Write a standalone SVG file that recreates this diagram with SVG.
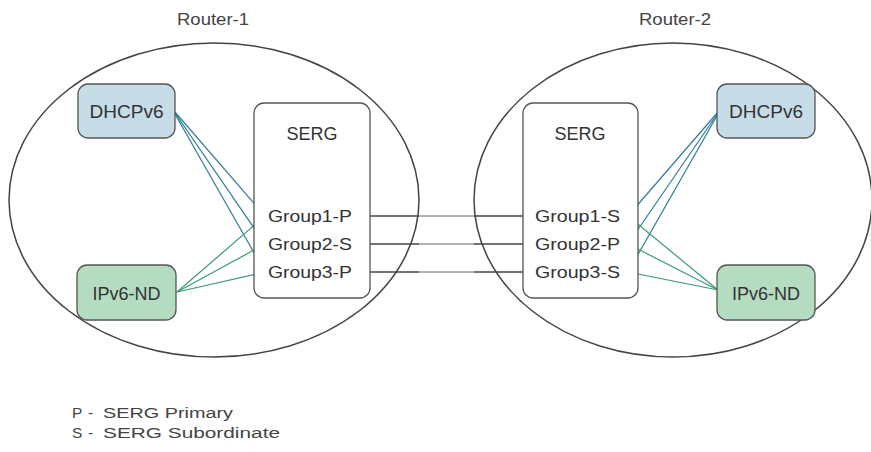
<svg xmlns="http://www.w3.org/2000/svg" width="871" height="452" viewBox="0 0 871 452">
<defs>
<style>
text{font-family:"Liberation Sans",Arial,sans-serif;fill:#333}
.router{fill:none;stroke:#444;stroke-width:1.5}
.title{font-size:17px;fill:#444;text-anchor:middle}
.box{stroke:#555;stroke-width:1.3}
.dh{fill:#c6dde8}
.nd{fill:#b4dcc0}
.serg{fill:#fff}
.lbl{font-size:18px;text-anchor:middle}
.grp{font-size:17px}
.blue{stroke:#2f7b98;stroke-width:1.2;fill:none}
.green{stroke:#3a9a78;stroke-width:1.2;fill:none}
.link{stroke:url(#lg);stroke-width:1.3}
.leg{font-size:15.5px;fill:#444}
</style>
<linearGradient id="lg" gradientUnits="userSpaceOnUse" x1="359" y1="0" x2="532" y2="0">
<stop offset="0" stop-color="#444"/>
<stop offset="0.347" stop-color="#444"/>
<stop offset="0.347" stop-color="#999"/>
<stop offset="0.665" stop-color="#999"/>
<stop offset="0.665" stop-color="#444"/>
<stop offset="1" stop-color="#444"/>
</linearGradient>
</defs>

<g id="router-1">
<ellipse class="router" cx="214" cy="200" rx="205" ry="157"/>
<text class="title" x="213" y="25" textLength="72" lengthAdjust="spacingAndGlyphs">Router-1</text>
</g>
<g id="router-2">
<ellipse class="router" cx="673" cy="200" rx="199" ry="157"/>
<text class="title" x="675" y="25" textLength="72" lengthAdjust="spacingAndGlyphs">Router-2</text>
</g>

<g id="connectors">
<line class="link" x1="359" y1="216" x2="532" y2="216"/>
<line class="link" x1="359" y1="244" x2="532" y2="244"/>
<line class="link" x1="359" y1="272" x2="532" y2="272"/>
<polyline class="blue" points="175,112 265,216"/>
<polyline class="blue" points="175,113 265,244"/>
<polyline class="blue" points="175,114 265,272"/>
<polyline class="green" points="177,292 265,216"/>
<polyline class="green" points="177,292 265,244"/>
<polyline class="green" points="177,292 265,272"/>
<polyline class="blue" points="718,112 628,216"/>
<polyline class="blue" points="718,113 628,244"/>
<polyline class="blue" points="718,114 628,272"/>
<polyline class="green" points="718,290 628,216"/>
<polyline class="green" points="718,290 628,244"/>
<polyline class="green" points="718,290 628,272"/>
</g>

<g id="dhcpv6-1">
<rect class="box dh" x="78" y="84" width="97" height="54" rx="10"/>
<text class="lbl" x="126.5" y="118" textLength="74" lengthAdjust="spacingAndGlyphs">DHCPv6</text>
</g>
<g id="ipv6nd-1">
<rect class="box nd" x="77" y="265" width="99" height="55" rx="10"/>
<text class="lbl" x="126.5" y="300" textLength="68" lengthAdjust="spacingAndGlyphs">IPv6-ND</text>
</g>
<g id="serg-1">
<rect class="box serg" x="254" y="103" width="116" height="195" rx="10"/>
<text class="lbl" x="312" y="140">SERG</text>
<text class="grp" x="268" y="222" textLength="84" lengthAdjust="spacingAndGlyphs">Group1-P</text>
<text class="grp" x="268" y="250" textLength="84" lengthAdjust="spacingAndGlyphs">Group2-S</text>
<text class="grp" x="268" y="278" textLength="84" lengthAdjust="spacingAndGlyphs">Group3-P</text>
</g>

<g id="serg-2">
<rect class="box serg" x="523" y="103" width="115" height="195" rx="10"/>
<text class="lbl" x="580" y="140">SERG</text>
<text class="grp" x="535" y="222" textLength="85" lengthAdjust="spacingAndGlyphs">Group1-S</text>
<text class="grp" x="535" y="250" textLength="85" lengthAdjust="spacingAndGlyphs">Group2-P</text>
<text class="grp" x="535" y="278" textLength="85" lengthAdjust="spacingAndGlyphs">Group3-S</text>
</g>
<g id="dhcpv6-2">
<rect class="box dh" x="717" y="84" width="98" height="54" rx="10"/>
<text class="lbl" x="766" y="118" textLength="74" lengthAdjust="spacingAndGlyphs">DHCPv6</text>
</g>
<g id="ipv6nd-2">
<rect class="box nd" x="717" y="265" width="98" height="55" rx="10"/>
<text class="lbl" x="766" y="300" textLength="68" lengthAdjust="spacingAndGlyphs">IPv6-ND</text>
</g>

<g id="legend">
<text class="leg" y="418"><tspan x="72">P</tspan><tspan x="88">-</tspan><tspan x="103" textLength="130" lengthAdjust="spacingAndGlyphs">SERG Primary</tspan></text>
<text class="leg" y="438"><tspan x="72">S</tspan><tspan x="88">-</tspan><tspan x="103" textLength="177" lengthAdjust="spacingAndGlyphs">SERG Subordinate</tspan></text>
</g>
</svg>
